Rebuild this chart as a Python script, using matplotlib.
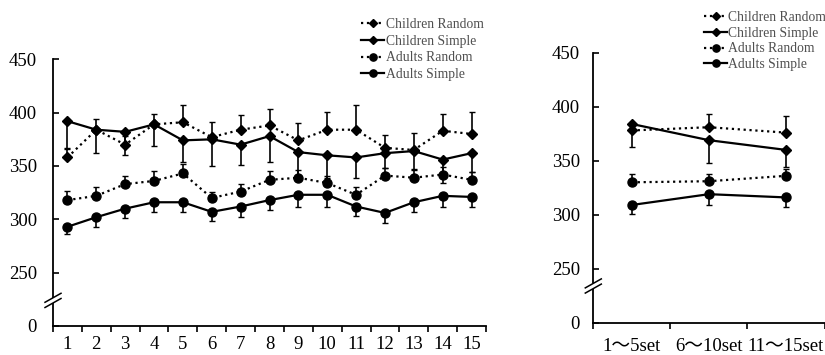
import matplotlib
matplotlib.use("Agg")
import matplotlib.pyplot as plt
from matplotlib.lines import Line2D
from matplotlib.patches import Rectangle
import numpy as np

plt.rcParams['font.family'] = ['Liberation Serif', 'Noto Sans CJK JP']

# ---------------- data ----------------
sets = list(range(1, 16))
set_labels = [str(s) for s in sets]

cr = [358, 384, 370, 389, 391, 377, 384, 388, 374, 384, 384, 367, 365, 383, 380]
cr_err = [9, 10, 8, 10, 16, 14, 14, 15, 16, 17, 23, 12, 16, 16, 21]
cs = [392, 384, 382, 389, 374, 375, 370, 378, 363, 360, 358, 362, 364, 356, 362]
cs_err = [26, 22, 22, 20, 20, 25, 19, 24, 23, 21, 19, 14, 17, 22, 18]
ar = [318, 322, 333, 336, 343, 320, 326, 337, 339, 334, 323, 341, 339, 342, 337]
ar_err = [9, 8, 8, 9, 9, 6, 7, 8, 7, 7, 7, 7, 7, 7, 7]
as_ = [293, 302, 310, 316, 316, 307, 312, 318, 323, 323, 312, 306, 316, 322, 321]
as_err = [7, 9, 9, 9, 9, 9, 10, 9, 11, 11, 9, 9, 9, 10, 9]

blocks = ['1〜5set', '6〜10set', '11〜15set']
cr_b = [378, 381, 376]
cr_b_err = [5, 12, 15]
cs_b = [384, 369, 360]
cs_b_err = [21, 21, 16]
ar_b = [330, 331, 336]
ar_b_err = [8, 7, 6]
as_b = [309, 319, 316]
as_b_err = [8, 10, 9]

series_names = ['Children Random', 'Children Simple', 'Adults Random', 'Adults Simple']
yticks = [200, 250, 300, 350, 400, 450]
ytick_labels = ['0', '250', '300', '350', '400', '450']

# ---------------- figure ----------------
W, H = 825, 355
fig = plt.figure(figsize=(W / 100, H / 100), dpi=100)

ax1 = fig.add_axes([53 / W, (H - 326) / H, (486 - 53) / W, (326 - 59.3) / H])
ax2 = fig.add_axes([593.3 / W, (H - 322.7) / H, (824.5 - 593.3) / W, (322.7 - 52.7) / H])

styles = [
    dict(ls=':', marker='D', ms=5),
    dict(ls='-', marker='D', ms=5),
    dict(ls=':', marker='o', ms=6.5),
    dict(ls='-', marker='o', ms=6.5),
]
upper_only = [True, False, True, False]


def plot_panel(ax, x, vals_list, errs_list):
    handles = []
    for vals, errs, st, up, name in zip(vals_list, errs_list, styles, upper_only, series_names):
        errs = np.array(errs)
        zeros = np.zeros_like(errs)
        yerr = [zeros, errs] if up else [errs, zeros]
        ax.errorbar(x, vals, yerr=yerr, fmt='none', ecolor='black',
                    elinewidth=1.2, capsize=2.2, capthick=1.0, zorder=2)
        ln, = ax.plot(x, vals, color='black', lw=1.6, ls=st['ls'],
                      marker=st['marker'], ms=st['ms'], mfc='black', mec='black',
                      zorder=3, label=name)
        handles.append(ln)
    return handles


h1 = plot_panel(ax1, sets, [cr, cs, ar, as_], [cr_err, cs_err, ar_err, as_err])
xb = [1, 2, 3]
h2 = plot_panel(ax2, xb, [cr_b, cs_b, ar_b, as_b], [cr_b_err, cs_b_err, ar_b_err, as_b_err])

for ax, n, labels, ypad, xpad in [(ax1, 15, set_labels, 11.5, 7.5), (ax2, 3, blocks, 9.5, 11)]:
    ax.set_xlim(0.5, n + 0.5)
    ax.set_ylim(200, 450)
    ax.spines['top'].set_visible(False)
    ax.spines['right'].set_visible(False)
    ax.spines['left'].set_linewidth(1.3)
    ax.spines['bottom'].set_linewidth(1.3)
    ax.set_yticks(yticks)
    ax.set_yticklabels(ytick_labels)
    ax.tick_params(axis='y', direction='in', length=4, width=1.2, pad=ypad, labelsize=13.5)
    ax.set_xticks(range(1, n + 1))
    ax.set_xticklabels(labels)
    ax.set_xticks(np.arange(0.5, n + 1.0, 1.0), minor=True)
    ax.tick_params(axis='x', which='major', length=0, pad=xpad, labelsize=13.5)
    ax.tick_params(axis='x', which='minor', direction='out', length=4, width=1.2)


def draw_break(ax, yval):
    disp = ax.transData.transform((ax.get_xlim()[0], yval))
    inv = fig.transFigure.inverted()
    x0, y0 = disp
    g = 2.6
    (rx, ry) = inv.transform((x0 - 2.5, y0 - g))
    (rx2, ry2) = inv.transform((x0 + 2.5, y0 + g))
    fig.patches.append(Rectangle((rx, ry), rx2 - rx, ry2 - ry, transform=fig.transFigure,
                                 facecolor='white', edgecolor='none', zorder=10))
    for dy in (-g, g):
        p1 = inv.transform((x0 - 8, y0 + dy - 4.5))
        p2 = inv.transform((x0 + 8, y0 + dy + 4.5))
        fig.lines.append(Line2D([p1[0], p2[0]], [p1[1], p2[1]], transform=fig.transFigure,
                                color='black', lw=1.1, zorder=11))


fig.canvas.draw()
draw_break(ax1, 224)
draw_break(ax2, 234)

leg_kw = dict(frameon=False, fontsize=9.8, handlelength=1.7, handletextpad=0.1,
              borderpad=0, borderaxespad=0, labelcolor='#505050',
              markerscale=0.8)
ax1.legend(handles=h1, loc='upper left', bbox_to_anchor=(361 / W, 1 - 18 / H),
           bbox_transform=fig.transFigure, labelspacing=0.27, **leg_kw)
ax2.legend(handles=h2, loc='upper left', bbox_to_anchor=(704 / W, 1 - 11 / H),
           bbox_transform=fig.transFigure, labelspacing=0.2, **leg_kw)

fig.savefig('out.png', dpi=100)
